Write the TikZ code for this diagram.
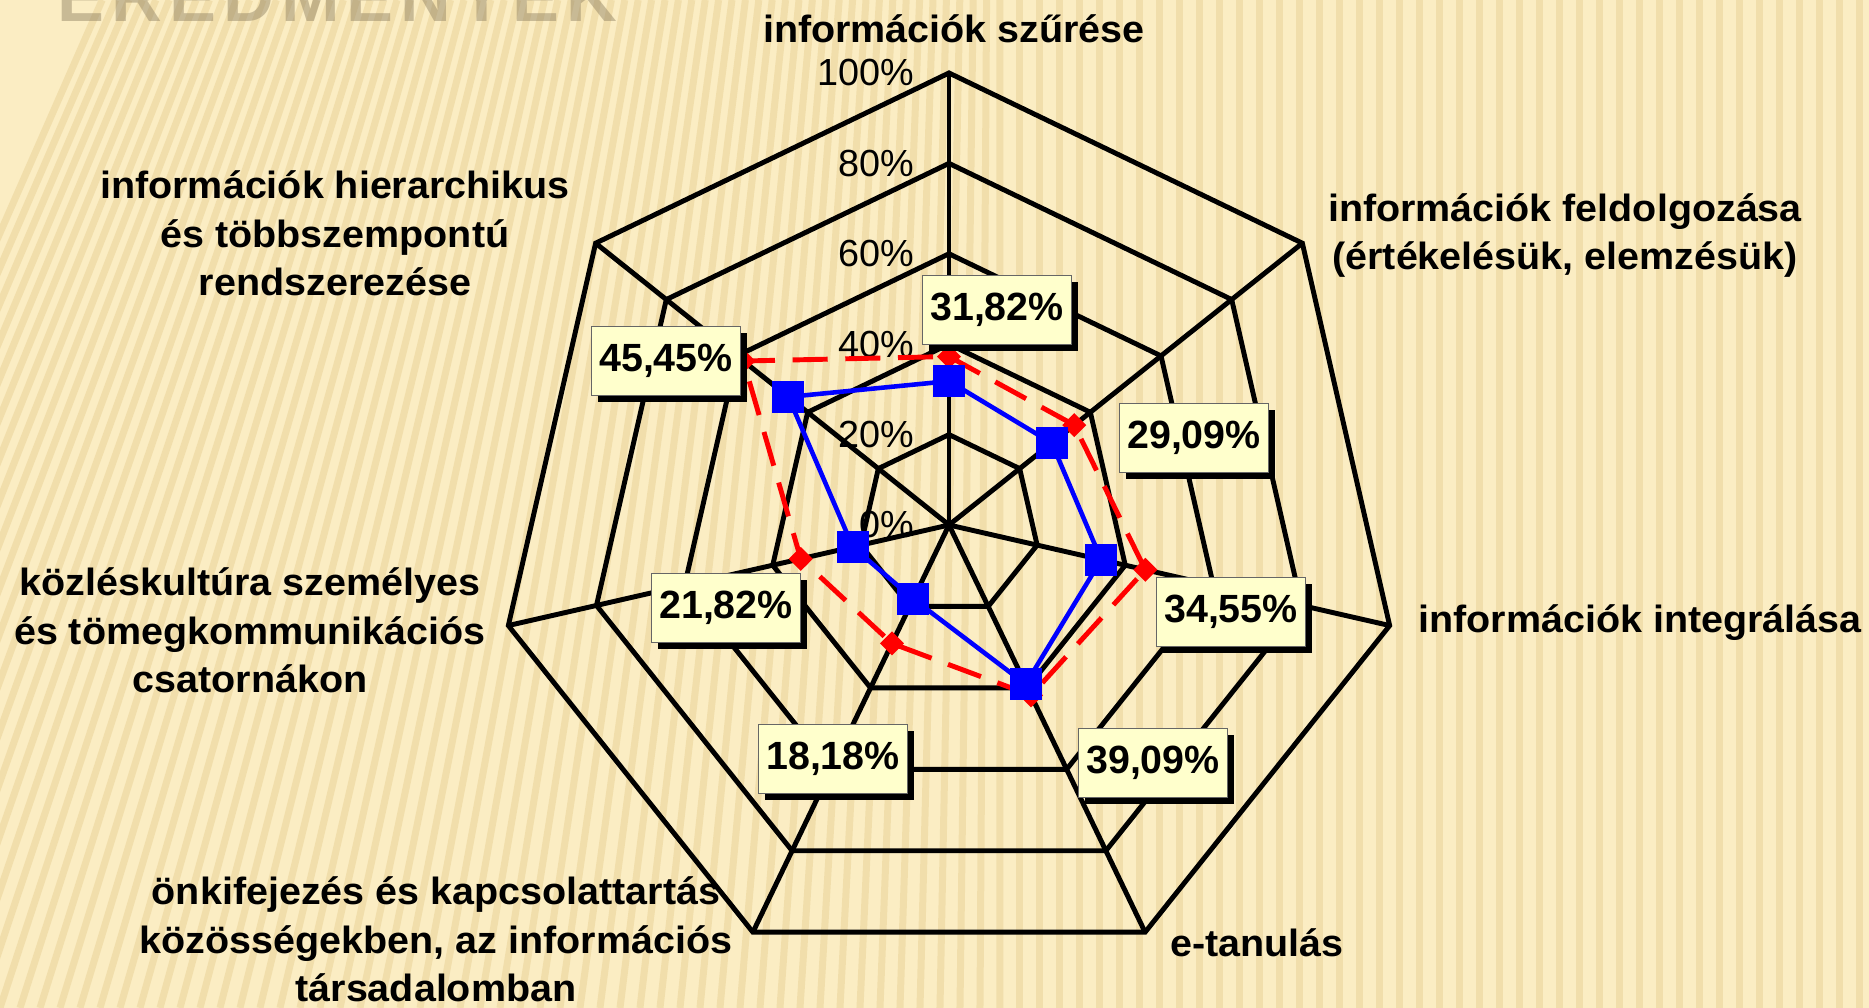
\documentclass[tikz,border=0pt]{standalone}
\usepackage{fontspec}
\setmainfont{Liberation Sans}
\newfontfamily\catfont[FakeStretch=1.04]{Liberation Sans}
\usetikzlibrary{shadows}

\definecolor{hatter}{RGB}{251,237,195}
\definecolor{csik}{RGB}{232,208,148}
\definecolor{cimke}{RGB}{255,255,204}
\definecolor{cimszin}{RGB}{140,125,95}

\begin{document}
\begin{tikzpicture}[
        font=\small,
        racs/.style={line width=1.4pt, black, line join=miter},
        kek/.style={line width=1.3pt, blue},
        piros/.style={line width=1.4pt, red, dash pattern=on 10pt off 5pt},
        negyzet/.style={fill=blue, draw=none, minimum size=0.32cm, inner sep=0pt},
        ertek/.style={draw=black!60, line width=0.4pt, fill=cimke, minimum width=1.49cm,
            minimum height=0.69cm, inner sep=0pt, font=\fontsize{11.2pt}{13pt}\selectfont\bfseries,
            drop shadow={shadow xshift=0.065cm, shadow yshift=-0.065cm, fill=black, opacity=1}},
        kategoria/.style={font=\catfont\fontsize{10.8pt}{13.9pt}\selectfont\bfseries,
            align=center, inner sep=0pt, anchor=base},
        skala/.style={font=\fontsize{10.75pt}{12pt}\selectfont, anchor=east, inner sep=0pt}
    ]
        % Háttér
        \useasboundingbox (0,0) rectangle (18.69,10.08);
        \clip (0,0) rectangle (18.69,10.08);
        \fill[hatter] (0,0) rectangle (18.69,10.08);
        \foreach \x in {-3.4,-3.2,...,18.8} {
            \pgfmathsetmacro{\dx}{max(0,3.3-0.33*\x)}
            \draw[csik, line width=0.07cm, opacity=0.5] (\x,0) -- (\x+\dx,10.08);
        }
        \node[anchor=base west, inner sep=0pt, text=cimszin, opacity=0.45,
            font=\fontsize{20pt}{20pt}\selectfont\bfseries\addfontfeature{LetterSpace=10}]
            (cim) at (0.57,9.86) {EREDMÉNYEK};

        \begin{scope}[shift={(9.49,4.83)}]
        % Skála
        \foreach \p [count=\i from 0] in {0,20,40,60,80,100}
            \node[skala] (sk\p) at (-0.34,{\i*0.904}) {\p\%};

        % Rács
        \coordinate (kp) at (0,0);
        \foreach \k in {0,...,6}
            \coordinate (t\k) at ({90-\k*360/7}:4.52);
        \foreach \i in {1,...,5}
            \draw[racs] (90:{\i*0.904}) \foreach \k in {1,...,6} { -- ({90-\k*360/7}:{\i*0.904}) } -- cycle;
        \foreach \k in {0,...,6}
            \draw[racs] (kp) -- (t\k);

        % Adatsorok
        \foreach \v [count=\k from 0] in {0.3727,0.3545,0.4455,0.4182,0.2909,0.3364,0.5818}
            \coordinate (r\k) at ({90-\k*360/7}:{\v*4.52});
        \foreach \v [count=\k from 0] in {0.3182,0.2909,0.3455,0.3909,0.1818,0.2182,0.4545}
            \coordinate (b\k) at ({90-\k*360/7}:{\v*4.52});

        \draw[piros] (r0) -- (r1) -- (r2) -- (r3) -- (r4) -- (r5) -- (r6) -- cycle;
        \foreach \k in {0,...,6}
            \fill[red] (r\k) ++(0,0.12) -- ++(0.12,-0.12) -- ++(-0.12,-0.12) -- ++(-0.12,0.12) -- cycle;

        \draw[kek] (b0) -- (b1) -- (b2) -- (b3) -- (b4) -- (b5) -- (b6) -- cycle;
        \foreach \k in {0,...,6}
            \node[negyzet] (bn\k) at (b\k) {};
        \end{scope}

        % Értékcímkék
        \node[ertek] (e0) at (9.97,6.98) {31,82\%};
        \node[ertek] (e1) at (11.94,5.70) {29,09\%};
        \node[ertek] (e2) at (12.31,3.96) {34,55\%};
        \node[ertek] (e3) at (11.53,2.45) {39,09\%};
        \node[ertek] (e4) at (8.33,2.49) {18,18\%};
        \node[ertek] (e5) at (7.26,4.00) {21,82\%};
        \node[ertek] (e6) at (6.66,6.47) {45,45\%};

        % Kategóriák
        \node[kategoria] (c0) at (9.54,9.653) {információk szűrése};
        \node[kategoria] (c1) at (15.65,7.38) {információk feldolgozása\\(értékelésük, elemzésük)};
        \node[kategoria] (c2) at (16.40,3.75) {információk integrálása};
        \node[kategoria] (c3) at (12.57,0.51) {e-tanulás};
        \node[kategoria] (c4) at (4.36,0.06) {önkifejezés és kapcsolattartás\\közösségekben, az információs\\társadalomban};
        \node[kategoria] (c5) at (2.50,3.15) {közléskultúra személyes\\és tömegkommunikációs\\csatornákon};
        \node[kategoria] (c6) at (3.35,7.12) {információk hierarchikus\\és többszempontú\\rendszerezése};

    \end{tikzpicture}
\end{document}
